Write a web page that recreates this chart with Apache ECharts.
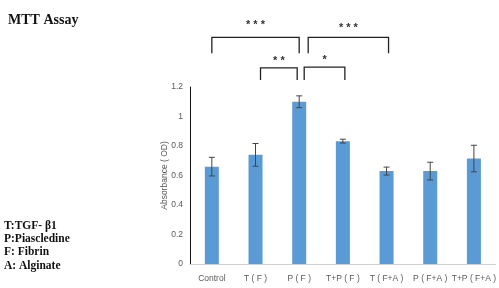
<!DOCTYPE html>
<html>
<head>
<meta charset="utf-8">
<script src="https://cdn.jsdelivr.net/npm/echarts@6/dist/echarts.min.js"></script>
<style>html,body{margin:0;padding:0;background:#fff;}#c{width:499px;height:288px;}</style>
</head>
<body>
<div id="c"></div>
<script>
var categories = ['Control', 'T ( F )', 'P ( F )', 'T+P ( F )', 'T ( F+A )', 'P ( F+A )', 'T+P ( F+A )'];
var absorbance = [0.66, 0.74, 1.10, 0.833, 0.63, 0.63, 0.715];
var errors = [0.063, 0.077, 0.04, 0.013, 0.027, 0.06, 0.09];
var yTicks = [0, 0.2, 0.4, 0.6, 0.8, 1, 1.2];
var comparisons = [[0, 2, '* * *'], [2, 4, '* * *'], [1, 2, '* *'], [2, 3, '*']];
var bracketTop = [1.537, 1.537, 1.329, 1.335];
var bracketLeg = [1.428, 1.428, 1.247, 1.247];
var noteLines = ['T:TGF- \u03b21', 'P:Piascledine', 'F: Fibrin', 'A: Alginate'];
var titleText = 'MTT Assay';

var sans = '"Liberation Sans", sans-serif';
var chart = echarts.init(document.getElementById('c'), null, {renderer: 'canvas'});

var errData = absorbance.map(function (v, i) { return [i, v + errors[i], v - errors[i]]; });
var brData = comparisons.map(function (c, i) { return [c[0], c[1], bracketTop[i], bracketLeg[i], i]; });
// pixel nudges so brackets sharing a bar do not overlap
var startNudge = [0, 9, 5, 5];
var endNudge = [0, 2, -2, 2];
var labelLift = [12, 9, 7, 7];

var noteGraphics = noteLines.map(function (t, i) {
  return {
    type: 'text', left: 4, top: 220 + i * 13.2,
    style: {text: t, font: 'bold 11.5px "Liberation Serif", serif', fill: '#111'}
  };
});

chart.setOption({
  animation: false,
  title: {
    text: titleText, left: 3, top: 8,
    textStyle: {fontFamily: '"Liberation Serif", serif', fontWeight: 'bold', fontSize: 14, color: '#111'}
  },
  graphic: noteGraphics,
  grid: {left: 190, right: 2, top: 87, bottom: 24},
  xAxis: {
    type: 'category', data: categories,
    axisLine: {lineStyle: {color: '#d0d0d0'}},
    axisTick: {show: false},
    axisLabel: {color: '#595959', fontSize: 8.5, fontFamily: sans, margin: 10, interval: 0}
  },
  yAxis: {
    type: 'value', min: yTicks[0], max: yTicks[yTicks.length - 1], interval: 0.2,
    name: 'Absorbance ( OD)', nameLocation: 'middle', nameGap: 21, nameRotate: 90,
    nameMoveOverlap: false,
    nameTextStyle: {color: '#595959', fontSize: 8.5, fontFamily: sans},
    axisLine: {show: true, lineStyle: {color: '#111', width: 1}},
    axisTick: {show: false},
    splitLine: {show: false},
    axisLabel: {color: '#595959', fontSize: 8.5, fontFamily: sans, margin: 7,
      formatter: function (v) { return String(Math.round(v * 10) / 10); }}
  },
  series: [
    {
      type: 'bar', data: absorbance, barWidth: 14,
      itemStyle: {color: '#5b9bd5'}
    },
    {
      type: 'custom', data: errData, z: 5,
      renderItem: function (params, api) {
        var hi = api.coord([api.value(0), api.value(1)]);
        var lo = api.coord([api.value(0), api.value(2)]);
        var x = hi[0], w = 3;
        var st = {stroke: '#444', lineWidth: 1};
        return {type: 'group', children: [
          {type: 'line', shape: {x1: x, y1: hi[1], x2: x, y2: lo[1]}, style: st},
          {type: 'line', shape: {x1: x - w, y1: hi[1], x2: x + w, y2: hi[1]}, style: st},
          {type: 'line', shape: {x1: x - w, y1: lo[1], x2: x + w, y2: lo[1]}, style: st}
        ]};
      }
    },
    {
      type: 'custom', data: brData, clip: false, z: 5,
      renderItem: function (params, api) {
        var k = api.value(4);
        var a = api.coord([api.value(0), api.value(2)]);
        var b = api.coord([api.value(1), api.value(2)]);
        var legY = api.coord([api.value(0), api.value(3)])[1];
        var x1 = a[0] + startNudge[k], x2 = b[0] + endNudge[k], y = a[1];
        var st = {stroke: '#222', lineWidth: 1.3, fill: null};
        return {type: 'group', children: [
          {type: 'polyline', shape: {points: [[x1, legY], [x1, y], [x2, y], [x2, legY]]}, style: st},
          {type: 'text', style: {text: comparisons[k][2], x: (x1 + x2) / 2, y: y - labelLift[k],
            align: 'center', verticalAlign: 'middle', font: 'bold 11px "Liberation Sans", sans-serif', fill: '#333'}}
        ]};
      }
    }
  ]
});
</script>
</body>
</html>
